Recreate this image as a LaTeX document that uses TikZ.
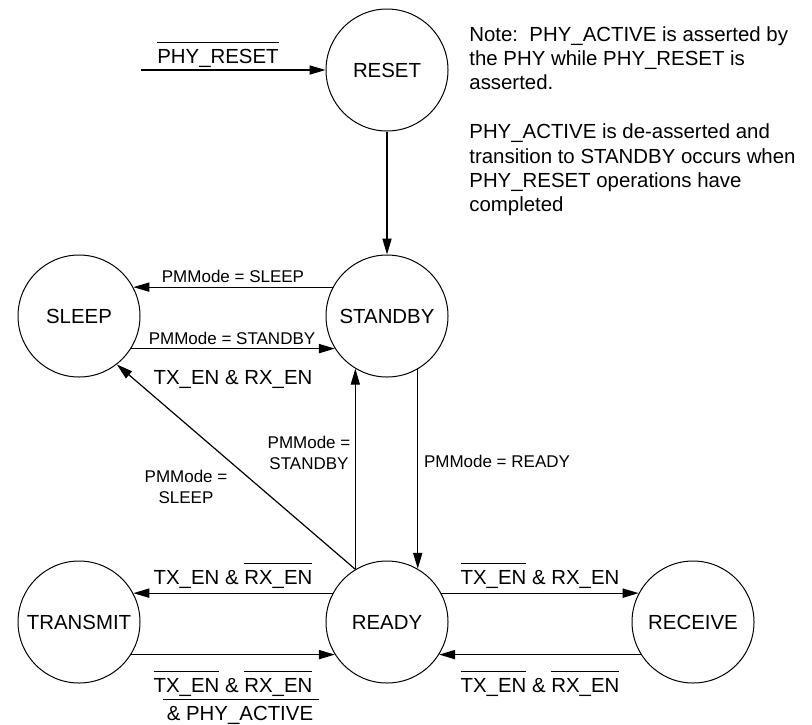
\documentclass[tikz,border=0pt]{standalone}
\usepackage{fontspec}
\setmainfont{Liberation Sans}
\usetikzlibrary{arrows.meta,positioning}
\tikzstyle{state}=[circle,draw,line width=0.5pt,minimum size=61pt,inner sep=0pt,font=\fontsize{10.2}{12.2}\selectfont]
\tikzstyle{edge} = [draw,line width=0.6pt,-{Triangle[length=8pt,width=4.6pt]}]
\tikzstyle{cond}=[inner sep=0pt,anchor=base,font=\fontsize{10.2}{12.2}\selectfont]
\tikzstyle{pmlabel}=[inner sep=0pt,align=center,font=\fontsize{8.5}{10.2}\selectfont]
\newcommand{\ovl}[1]{$\overline{\mbox{\rule{0pt}{8.7pt}#1}}$}

\begin{document}
\begin{tikzpicture}[x=0.5pt,y=-0.5pt]
    \useasboundingbox (0,0) rectangle (812,724);
    % First we draw the states
    \foreach \pos/\name in {{(387,70)/RESET}, {(387,316)/STANDBY}, {(79,316)/SLEEP},
        {(387,622)/READY}, {(79,622)/TRANSMIT}, {(693,622)/RECEIVE}}
        \node[state] (\name) at \pos {\name};
    % Connect states with transitions
    \coordinate (rstin) at (141,70);
    \foreach \source/ \dest in {rstin/RESET.west, RESET/STANDBY, STANDBY.152/SLEEP.28,
        SLEEP.-32/STANDBY.-148, READY.121/SLEEP.-52, READY.121/STANDBY.-121,
        STANDBY.-60/READY.60, READY.152/TRANSMIT.28, TRANSMIT.-32/READY.-148,
        READY.28/RECEIVE.152, RECEIVE.-148/READY.-32}
        \path[edge] (\source) -- (\dest) ;
    % Conditions
    \node[cond] (rstlbl) at (218,63) {\ovl{PHY\_RESET}};
    \node[pmlabel,anchor=base] (sleeplbl) at (233,282) {PMMode = SLEEP};
    \node[pmlabel,anchor=base] (stbylbl) at (232,344) {PMMode = STANDBY};
    \node[cond] (bothlbl) at (233,384) {TX\_EN \& RX\_EN};
    \node[pmlabel] (upstbylbl) at (309,453) {PMMode =\\STANDBY};
    \node[pmlabel] (diaglbl) at (186,487) {PMMode =\\SLEEP};
    \node[pmlabel,anchor=base] (readylbl) at (497,467) {PMMode = READY};
    \node[cond] (txlbl) at (233,584) {TX\_EN \& \ovl{RX\_EN}};
    \node[cond] (txbacklbl) at (233,692) {\ovl{TX\_EN} \& \ovl{RX\_EN}};
    \node[cond] (activelbl) at (241,720) {\ovl{\kern2pt\& PHY\_ACTIVE\kern3pt}};
    \node[cond] (rxlbl) at (540,584) {\ovl{TX\_EN} \& RX\_EN};
    \node[cond] (rxbacklbl) at (540,692) {\ovl{TX\_EN} \& \ovl{RX\_EN}};
    % Note
    \node[anchor=north west,inner sep=0pt,align=left,font=\fontsize{10.2}{12.2}\selectfont] (note) at (469,26)
        {Note:\ \ PHY\_ACTIVE is asserted by\\the PHY while PHY\_RESET is\\asserted.\\[12.2pt]
         PHY\_ACTIVE is de-asserted and\\transition to STANDBY occurs when\\PHY\_RESET operations have\\completed};
\end{tikzpicture}
\end{document}
